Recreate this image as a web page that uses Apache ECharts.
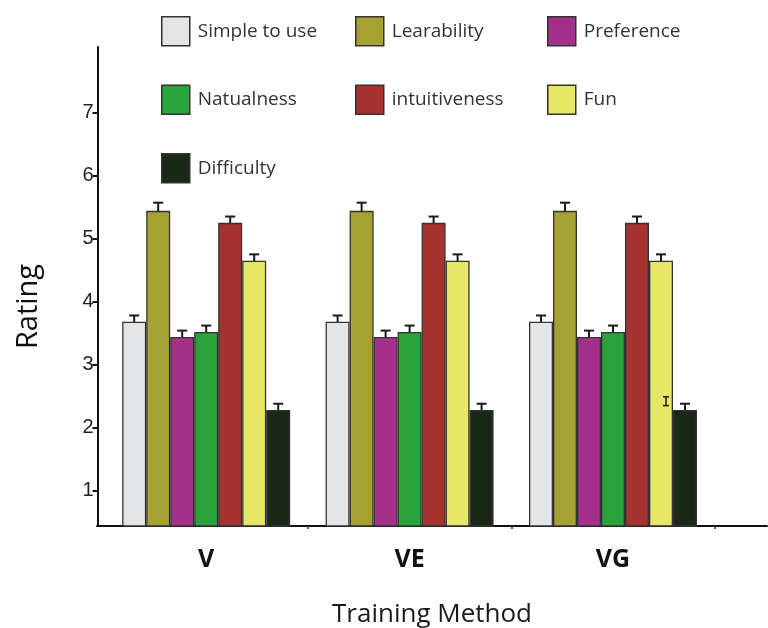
<!DOCTYPE html>
<html>
<head>
<meta charset="utf-8">
<script src="https://cdn.jsdelivr.net/npm/echarts@6/dist/echarts.min.js"></script>
<style>html,body{margin:0;padding:0;background:#fff;}#c{width:768px;height:628px;}</style>
</head>
<body>
<div id="c"></div>
<script>
// ---- data ----
const categories = ['V', 'VE', 'VG'];
const seriesNames = ['Simple to use', 'Learability', 'Preference', 'Natualness', 'intuitiveness', 'Fun', 'Difficulty'];
const simpleToUse   = [3.68, 3.68, 3.68];
const learability   = [5.44, 5.44, 5.44];
const preference    = [3.44, 3.44, 3.44];
const natualness    = [3.52, 3.52, 3.52];
const intuitiveness = [5.25, 5.25, 5.25];
const fun           = [4.65, 4.65, 4.65];
const difficulty    = [2.28, 2.28, 2.28];
const errSimple = [0.10, 0.10, 0.10];
const errLearn  = [0.13, 0.13, 0.13];
const errPref   = [0.10, 0.10, 0.10];
const errNat    = [0.10, 0.10, 0.10];
const errIntu   = [0.10, 0.10, 0.10];
const errFun    = [0.10, 0.10, 0.10];
const errDiff   = [0.10, 0.10, 0.10];
// stray error-bar glyph seen near the VG "Fun" bar: [category index, value, half-height]
const strayErr = [[2, 2.42, 0.07]];
const yTickValues = [1, 2, 3, 4, 5, 6, 7];

const values = [simpleToUse, learability, preference, natualness, intuitiveness, fun, difficulty];
const errors = [errSimple, errLearn, errPref, errNat, errIntu, errFun, errDiff];
const colors = ['#e4e5e7', '#a6a131', '#a5308b', '#2ba33d', '#a73331', '#e8e667', '#1a2719'];

const BAR_W = 24;
const chart = echarts.init(document.getElementById('c'), null, {renderer: 'canvas'});

function errRender(k, shift) {
  return function (params, api) {
    const c = api.value(0), v = api.value(1), e = api.value(2);
    const top = api.coord([c, v + e]);
    const bot = api.coord([c, v - e]);
    const x = top[0] + (k - 3) * BAR_W + (shift || 0);
    const hw = 5;
    const st = {stroke: '#1a1a1a', lineWidth: 2};
    return {
      type: 'group',
      children: [
        {type: 'line', shape: {x1: x, y1: bot[1], x2: x, y2: top[1]}, style: st},
        {type: 'line', shape: {x1: x - hw, y1: top[1], x2: x + hw, y2: top[1]}, style: st},
        {type: 'line', shape: {x1: x - hw, y1: bot[1], x2: x + hw, y2: bot[1]}, style: st}
      ]
    };
  };
}

const series = [];
seriesNames.forEach(function (name, k) {
  series.push({
    name: name,
    type: 'bar',
    xAxisIndex: 0, yAxisIndex: 0,
    data: values[k],
    barWidth: BAR_W,
    barGap: '0%',
    z: 3,
    itemStyle: {color: colors[k], borderColor: '#333', borderWidth: 1.3},
    emphasis: {disabled: true}
  });
});
seriesNames.forEach(function (name, k) {
  series.push({
    name: name + ' err',
    type: 'custom',
    xAxisIndex: 0, yAxisIndex: 0,
    z: 2,
    renderItem: errRender(k, 0),
    encode: {x: 0, y: 1},
    data: values[k].map(function (v, i) { return [i, v, errors[k][i]]; })
  });
});
series.push({
  name: 'stray err',
  type: 'custom',
  xAxisIndex: 0, yAxisIndex: 0,
  z: 4,
  renderItem: (function () {
    const f = errRender(5, 5);
    return function (p, api) {
      const g = f(p, api);
      g.children.forEach(function (ch) { ch.style = {stroke: '#1a1a1a', lineWidth: 1.5}; });
      const c = g.children;
      c[1].shape.x1 += 2; c[1].shape.x2 -= 2;
      c[2].shape.x1 += 2; c[2].shape.x2 -= 2;
      return g;
    };
  })(),
  encode: {x: 0, y: 1},
  data: strayErr
});

const legendText = {fontSize: 19, color: '#333', fontFamily: 'Open Sans', padding: [0, 0, 0, 3]};
function mkLegend(names, left) {
  return {
    data: names,
    orient: 'vertical',
    left: left, top: 16,
    padding: 0,
    itemWidth: 28, itemHeight: 29,
    itemGap: 38,
    icon: 'rect',
    itemStyle: {borderColor: '#333', borderWidth: 1.5},
    textStyle: legendText,
    selectedMode: false
  };
}

const option = {
  backgroundColor: '#fff',
  animation: false,
  legend: [
    mkLegend(['Simple to use', 'Natualness', 'Difficulty'], 161),
    mkLegend(['Learability', 'intuitiveness'], 355),
    mkLegend(['Preference', 'Fun'], 547)
  ],
  grid: [
    {left: 104.5, right: 53.3, top: 47, bottom: 102, outerBoundsMode: 'none', containLabel: false},
    {left: 97, right: 1, top: 47, bottom: 102, outerBoundsMode: 'none', containLabel: false}
  ],
  xAxis: [
    {
      type: 'category', gridIndex: 0, data: categories,
      axisLine: {show: false},
      axisTick: {show: true, length: 3, interval: function (i) { return i === 1 || i === 2; }, lineStyle: {color: '#333', width: 1.5}},
      axisLabel: {fontSize: 25, fontWeight: 'bold', color: '#111', margin: 21, fontFamily: 'Open Sans'},
      splitLine: {show: false}
    },
    {
      type: 'value', gridIndex: 1, min: 0, max: 1,
      axisLine: {show: true, lineStyle: {color: '#111', width: 2}},
      axisTick: {show: false}, axisLabel: {show: false}, splitLine: {show: false},
      name: 'Training Method', nameLocation: 'middle', nameGap: 76,
      nameTextStyle: {fontSize: 26, color: '#1a1a1a', fontFamily: 'Open Sans'}
    }
  ],
  yAxis: [
    {
      type: 'value', gridIndex: 0, min: 0.44, max: 8.04, offset: 7,
      axisLine: {show: true, lineStyle: {color: '#111', width: 2}},
      axisTick: {show: true, length: 5, customValues: yTickValues, lineStyle: {color: '#111', width: 2}},
      axisLabel: {customValues: yTickValues, fontSize: 20, color: '#222', margin: 4, fontFamily: 'Liberation Sans'},
      splitLine: {show: false},
      name: 'Rating', nameLocation: 'middle', nameGap: 54,
      nameTextStyle: {fontSize: 29, color: '#111', fontFamily: 'Open Sans', padding: [0, 40, 0, 0]}
    },
    {type: 'value', gridIndex: 1, min: 0, max: 1, show: false}
  ],
  series: series
};
chart.setOption(option);
</script>
</body>
</html>
